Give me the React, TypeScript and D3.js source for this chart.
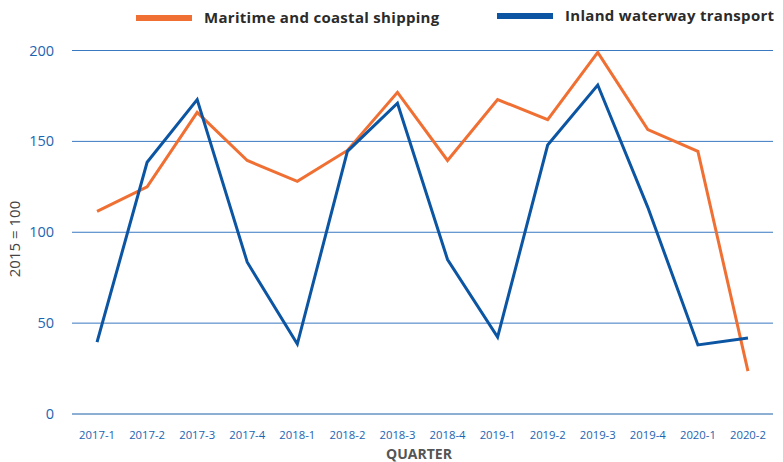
import React from "react";
import * as d3 from "d3";

const quarters = ["2017-1","2017-2","2017-3","2017-4","2018-1","2018-2","2018-3","2018-4","2019-1","2019-2","2019-3","2019-4","2020-1","2020-2"];
const maritime = [111.5,125,166,139.5,128,145,177,139.5,173,162,199,156.5,144.5,23.6];
const inland = [39.5,138.5,173,83.5,38.5,144.5,171,85,42.3,148,181,113.7,38,41.8];
const yTicks = [0,50,100,150,200];
const seriesNames = ["Maritime and coastal shipping","Inland waterway transport"];

const W = 783, H = 462;

export default function App() {
  const x = d3.scaleBand<string>().domain(quarters).range([72, 773]);
  const y = d3.scaleLinear().domain([0, 200]).range([414, 50.5]);
  const line = d3.line<number>().x((_, i) => (x(quarters[i]) as number) + x.bandwidth() / 2).y(d => y(d));
  const font = "'Open Sans', 'DejaVu Sans', sans-serif";
  const blue = "#0b55a3";
  const orange = "#f07033";
  return (
    <svg width={W} height={H} style={{ position: "absolute", left: 0, top: 0 }} fontFamily={font}>
      <rect width={W} height={H} fill="#fff" />
      {yTicks.map(t => (
        <g key={t}>
          <line x1={72} x2={773} y1={y(t)} y2={y(t)} stroke={t === 0 ? "#1d5fa8" : "#3a78c0"} strokeWidth={1} />
          <text x={54} y={y(t)} dy="0.35em" textAnchor="end" fontSize={14.5} fill="#1d64b0">{t}</text>
        </g>
      ))}
      {quarters.map(q => (
        <text key={q} x={(x(q) as number) + x.bandwidth() / 2} y={435.5} dy="0.35em" textAnchor="middle" fontSize={11.3} fill="#1d64b0">{q}</text>
      ))}
      <text x={419} y={454} dy="0.35em" textAnchor="middle" fontSize={14} fontWeight={700} fill="#555">QUARTER</text>
      <text transform={`translate(15,239) rotate(-90)`} textAnchor="middle" dy="0.35em" fontSize={15} fill="#444">2015 = 100</text>
      <path d={line(maritime) || ""} fill="none" stroke={orange} strokeWidth={3} strokeLinejoin="miter" />
      <path d={line(inland) || ""} fill="none" stroke={blue} strokeWidth={3} strokeLinejoin="miter" />
      <line x1={136} x2={192} y1={18} y2={18} stroke={orange} strokeWidth={6} />
      <text x={204} y={18} dy="0.35em" fontSize={15} letterSpacing={0.3} fontWeight={700} fill="#2b2b2b">{seriesNames[0]}</text>
      <line x1={497} x2={553} y1={16} y2={16} stroke={blue} strokeWidth={6} />
      <text x={565} y={16} dy="0.35em" fontSize={15} letterSpacing={0.3} fontWeight={700} fill="#2b2b2b">{seriesNames[1]}</text>
    </svg>
  );
}
